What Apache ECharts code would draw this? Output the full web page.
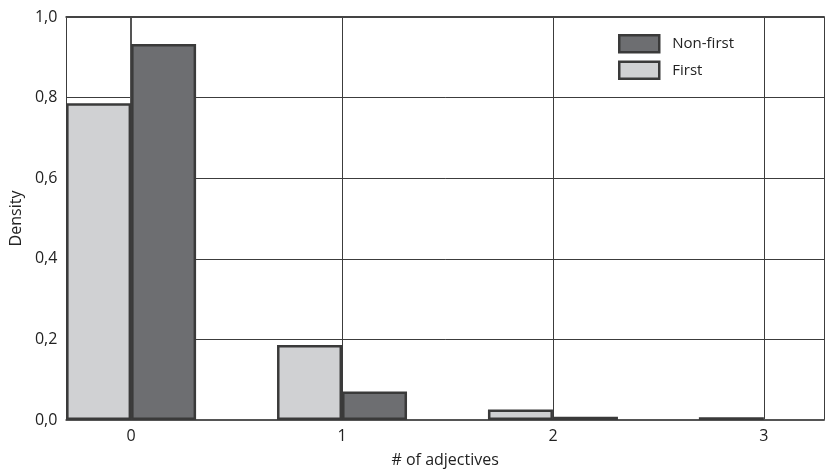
<!DOCTYPE html>
<html>
<head>
<meta charset="utf-8">
<script src="https://cdn.jsdelivr.net/npm/echarts@6/dist/echarts.min.js"></script>
<style>html,body{margin:0;padding:0;background:#fff;}#c{width:827px;height:473px;}</style>
</head>
<body>
<div id="c"></div>
<script>
const adjectives = [0, 1, 2, 3];
const firstDensity = [0.786, 0.186, 0.026, 0.007];
const nonFirstDensity = [0.933, 0.071, 0.008, 0];
const yTicks = [0, 0.2, 0.4, 0.6, 0.8, 1.0];

const chart = echarts.init(document.getElementById('c'), null, {renderer: 'canvas'});
const font = '"Open Sans", "Noto Sans", sans-serif';
const barBorder = {borderColor: '#3a3a3a', borderWidth: 2.5};
const toPoints = arr => adjectives.map((a, i) => arr[i] > 0 ? [a, arr[i]] : [a, null]);
chart.setOption({
  animation: false,
  backgroundColor: '#ffffff',
  grid: {left: 66, right: 0, top: 17, bottom: 51, containLabel: false},
  legend: {
    orient: 'vertical', left: 613, top: 29, itemWidth: 40, itemHeight: 17, itemGap: 7,
    icon: 'rect',
    itemStyle: {borderColor: '#3a3a3a', borderWidth: 2.5},
    textStyle: {fontFamily: font, fontSize: 15, color: '#222', padding: [0, 0, 0, 8]},
    data: ['Non-first', 'First']
  },
  xAxis: [{
    type: 'value', min: -0.307, max: 3.285, position: 'bottom',
    name: '# of adjectives', nameLocation: 'middle', nameGap: 32,
    nameTextStyle: {fontFamily: font, fontSize: 16, color: '#222'},
    axisLine: {show: true, lineStyle: {color: '#555', width: 2}},
    axisTick: {show: false},
    axisLabel: {fontFamily: font, fontSize: 16, color: '#222', margin: 8,
      formatter: v => adjectives.indexOf(v) >= 0 ? String(v) : ''},
    splitLine: {show: true, lineStyle: {color: '#3c3c3c', width: 1}}
  }, {
    type: 'value', min: -0.307, max: 3.285, position: 'top',
    axisLine: {show: true, lineStyle: {color: '#444', width: 2}},
    axisTick: {show: false}, axisLabel: {show: false}, splitLine: {show: false}
  }],
  yAxis: {
    type: 'value', min: 0, max: 1, interval: 0.2,
    name: 'Density', nameLocation: 'middle', nameGap: 42,
    nameTextStyle: {fontFamily: font, fontSize: 16, color: '#222'},
    axisLine: {show: true, lineStyle: {color: '#555', width: 2}},
    axisTick: {show: false},
    axisLabel: {fontFamily: font, fontSize: 16, color: '#222', margin: 9,
      formatter: v => yTicks.some(t => Math.abs(t - v) < 1e-9) ? v.toFixed(1).replace('.', ',') : ''},
    splitLine: {show: true, lineStyle: {color: '#3c3c3c', width: 1}}
  },
  series: [{
    name: 'First', type: 'bar', barWidth: 65, barGap: '0%',
    itemStyle: Object.assign({color: '#d0d1d3'}, barBorder),
    data: toPoints(firstDensity)
  }, {
    name: 'Non-first', type: 'bar', barWidth: 65, barGap: '0%',
    itemStyle: Object.assign({color: '#6d6e71'}, barBorder),
    data: toPoints(nonFirstDensity)
  }]
});
</script>
</body>
</html>
